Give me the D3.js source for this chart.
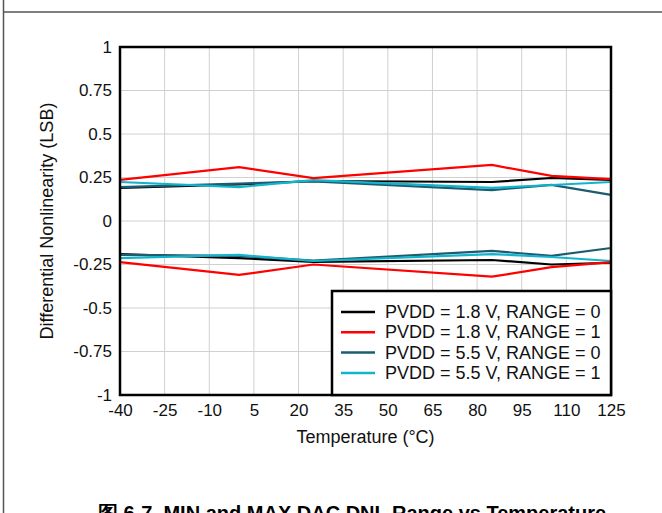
<!DOCTYPE html>
<html>
<head>
<meta charset="utf-8">
<script src="https://cdn.jsdelivr.net/npm/d3@7"></script>
<style>
  body { margin: 0; background: #fff; }
  text { font-family: "Liberation Sans", Arial, sans-serif; }
</style>
</head>
<body>
<script>
const width = 662;
const height = 513;

// measurement temperatures (°C)
const temps = [-40, 0, 25, 85, 105, 125];

// DNL max (upper) and min (lower) per config, LSB
const v18r0Max = [0.19, 0.21, 0.23, 0.224, 0.247, 0.236];
const v18r0Min = [-0.19, -0.213, -0.235, -0.224, -0.25, -0.24];
const v18r1Max = [0.236, 0.31, 0.247, 0.322, 0.259, 0.241];
const v18r1Min = [-0.236, -0.31, -0.25, -0.32, -0.265, -0.236];
const v55r0Max = [0.195, 0.215, 0.228, 0.178, 0.207, 0.15];
const v55r0Min = [-0.195, -0.2, -0.228, -0.172, -0.2, -0.155];
const v55r1Max = [0.224, 0.195, 0.235, 0.19, 0.207, 0.224];
const v55r1Min = [-0.213, -0.195, -0.23, -0.19, -0.207, -0.23];

const seriesNames = ['PVDD = 1.8 V, RANGE = 0', 'PVDD = 1.8 V, RANGE = 1',
  'PVDD = 5.5 V, RANGE = 0', 'PVDD = 5.5 V, RANGE = 1'];
const seriesColors = ['#000000', '#ff0000', '#1d5b70', '#12b4cc'];

const xTicks = [-40, -25, -10, 5, 20, 35, 50, 65, 80, 95, 110, 125];
const yTicks = [-1, -0.75, -0.5, -0.25, 0, 0.25, 0.5, 0.75, 1];

const margin = { top: 47, right: 51, bottom: 118, left: 120 };

const svg = d3.select('body').append('svg')
  .attr('width', width)
  .attr('height', height);

// outer frame
svg.append('line').attr('x1', 3.5).attr('x2', 3.5).attr('y1', 0).attr('y2', height)
  .attr('stroke', '#555').attr('stroke-width', 1.5);
svg.append('line').attr('x1', 3).attr('x2', width).attr('y1', 12).attr('y2', 12)
  .attr('stroke', '#555').attr('stroke-width', 1.5);

// cut-off title above frame line
svg.append('text')
  .attr('x', 400).attr('y', -4)
  .attr('text-anchor', 'middle')
  .style('font-size', '18px').style('font-weight', 'bold')
  .text('MIN and MAX DAC DNL Range vs Temperature');

const x = d3.scaleLinear().domain([-40, 125]).range([margin.left, width - margin.right]);
const y = d3.scaleLinear().domain([-1, 1]).range([height - margin.bottom, margin.top]);

// grid
svg.append('g')
  .selectAll('line')
  .data(xTicks)
  .join('line')
  .attr('x1', d => x(d)).attr('x2', d => x(d))
  .attr('y1', y(-1)).attr('y2', y(1))
  .attr('stroke', '#d0d0d0').attr('stroke-width', 1);
svg.append('g')
  .selectAll('line')
  .data(yTicks)
  .join('line')
  .attr('x1', x(-40)).attr('x2', x(125))
  .attr('y1', d => y(d)).attr('y2', d => y(d))
  .attr('stroke', '#d0d0d0').attr('stroke-width', 1);

// axes (labels only)
const xAxis = svg.append('g')
  .attr('transform', `translate(0, ${y(-1)})`)
  .call(d3.axisBottom(x).tickValues(xTicks).tickSize(0).tickPadding(9).tickFormat(d => String(d)));
const yAxis = svg.append('g')
  .attr('transform', `translate(${x(-40)}, 0)`)
  .call(d3.axisLeft(y).tickValues(yTicks).tickSize(0).tickPadding(8).tickFormat(d => String(d)));
[xAxis, yAxis].forEach(a => {
  a.select('.domain').remove();
  a.selectAll('text')
    .style('font-size', '17px')
    .style('font-family', '"Liberation Sans", Arial, sans-serif')
    .attr('fill', '#111');
});

svg.append('text')
  .attr('x', (x(-40) + x(125)) / 2)
  .attr('y', 443)
  .attr('text-anchor', 'middle')
  .style('font-size', '18px')
  .attr('fill', '#111')
  .text('Temperature (°C)');

svg.append('text')
  .attr('transform', `translate(53, ${y(0)}) rotate(-90)`)
  .attr('text-anchor', 'middle')
  .style('font-size', '18px')
  .attr('fill', '#111')
  .text('Differential Nonlinearity (LSB)');

// data lines
const line = d3.line()
  .x((d, i) => x(temps[i]))
  .y(d => y(d));

const curves = [
  [v18r0Max, 0], [v18r0Min, 0],
  [v55r0Max, 2], [v55r0Min, 2],
  [v55r1Max, 3], [v55r1Min, 3],
  [v18r1Max, 1], [v18r1Min, 1]
];

svg.append('g')
  .selectAll('path')
  .data(curves)
  .join('path')
  .attr('d', d => line(d[0]))
  .attr('fill', 'none')
  .attr('stroke', d => seriesColors[d[1]])
  .attr('stroke-width', 2.2);

// plot frame
svg.append('rect')
  .attr('x', x(-40)).attr('y', y(1))
  .attr('width', x(125) - x(-40)).attr('height', y(-1) - y(1))
  .attr('fill', 'none').attr('stroke', '#000').attr('stroke-width', 2.5);

// legend
const lg = svg.append('g');
lg.append('rect')
  .attr('x', 332).attr('y', 291)
  .attr('width', x(125) - 332).attr('height', y(-1) - 291)
  .attr('fill', '#fff').attr('stroke', '#000').attr('stroke-width', 2.5);

const rows = lg.selectAll('g.row')
  .data(seriesNames)
  .join('g')
  .attr('class', 'row')
  .attr('transform', (d, i) => `translate(0, ${312 + i * 20.3})`);
rows.append('line')
  .attr('x1', 341).attr('x2', 375)
  .attr('stroke', (d, i) => seriesColors[i])
  .attr('stroke-width', 2.5);
rows.append('text')
  .attr('x', 385).attr('y', 6)
  .style('font-size', '18px')
  .attr('fill', '#111')
  .text(d => d);

// caption, cut off at bottom
svg.append('text')
  .attr('x', 352).attr('y', 520)
  .attr('text-anchor', 'middle')
  .style('font-size', '20px').style('font-weight', 'bold')
  .text('图 6-7. MIN and MAX DAC DNL Range vs Temperature');
</script>
</body>
</html>
